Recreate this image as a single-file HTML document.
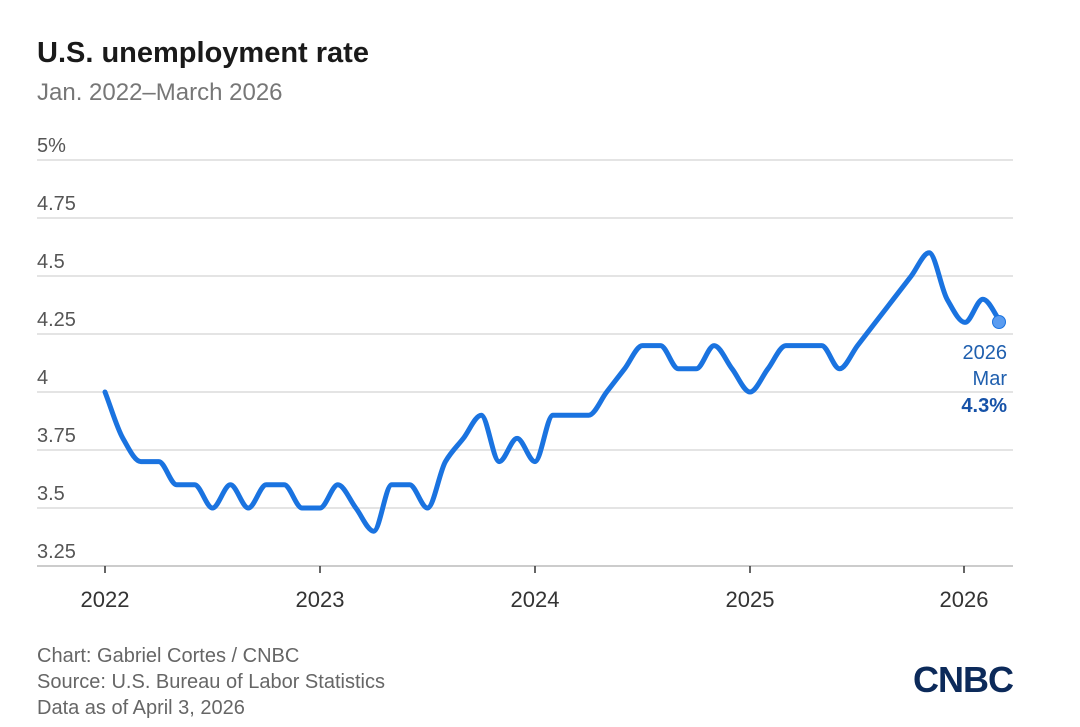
<!DOCTYPE html>
<html><head><meta charset="utf-8"><style>
body{margin:0;background:#fff;width:1080px;height:722px;overflow:hidden;font-family:"Liberation Sans",sans-serif}
</style></head><body>
<svg width="1080" height="722" xmlns="http://www.w3.org/2000/svg" font-family="Liberation Sans, sans-serif">
<rect width="1080" height="722" fill="#fff"/>
<text x="37" y="62" font-size="29" font-weight="bold" fill="#1a1a1a">U.S. unemployment rate</text>
<text x="37" y="100" font-size="24" fill="#777">Jan. 2022–March 2026</text>
<g stroke="#dcdcdc" stroke-width="1.5">
<line x1="37" x2="1013" y1="160" y2="160"/><line x1="37" x2="1013" y1="218" y2="218"/>
<line x1="37" x2="1013" y1="276" y2="276"/><line x1="37" x2="1013" y1="334" y2="334"/>
<line x1="37" x2="1013" y1="392" y2="392"/><line x1="37" x2="1013" y1="450" y2="450"/>
<line x1="37" x2="1013" y1="508" y2="508"/>
</g>
<line x1="37" x2="1013" y1="566" y2="566" stroke="#bbb" stroke-width="1.5"/>
<g font-size="20" fill="#555">
<text x="37" y="152">5%</text><text x="37" y="210">4.75</text><text x="37" y="268">4.5</text>
<text x="37" y="326">4.25</text><text x="37" y="384">4</text><text x="37" y="442">3.75</text>
<text x="37" y="500">3.5</text><text x="37" y="558">3.25</text>
</g>
<g stroke="#333" stroke-width="1.5">
<line x1="105" x2="105" y1="566" y2="573"/><line x1="320" x2="320" y1="566" y2="573"/>
<line x1="535" x2="535" y1="566" y2="573"/><line x1="750" x2="750" y1="566" y2="573"/>
<line x1="964" x2="964" y1="566" y2="573"/>
</g>
<g font-size="22" fill="#333" text-anchor="middle">
<text x="105" y="607">2022</text><text x="320" y="607">2023</text><text x="535" y="607">2024</text>
<text x="750" y="607">2025</text><text x="964" y="607">2026</text>
</g>
<path id="ln" fill="none" stroke="#1a73e0" stroke-width="5" stroke-linejoin="round" stroke-linecap="round"/>
<circle cx="999" cy="322" r="6.5" fill="#5a9cf0" stroke="#1a73e0" stroke-width="1"/>
<g font-size="20" text-anchor="end">
<text x="1007" y="359" fill="#1f5fae">2026</text>
<text x="1007" y="385" fill="#1f5fae">Mar</text>
<text x="1007" y="412" fill="#1652a8" font-weight="bold">4.3%</text>
</g>
<g font-size="20" fill="#666">
<text x="37" y="662">Chart: Gabriel Cortes / CNBC</text>
<text x="37" y="688">Source: U.S. Bureau of Labor Statistics</text>
<text x="37" y="714">Data as of April 3, 2026</text>
</g>
<text x="1013" y="692" font-size="36" font-weight="bold" fill="#0c2a5a" text-anchor="end" letter-spacing="-1">CNBC</text>
</svg>
<script>
var d=[4.0,3.8,3.7,3.7,3.6,3.6,3.5,3.6,3.5,3.6,3.6,3.5,
3.5,3.6,3.5,3.4,3.6,3.6,3.5,3.7,3.8,3.9,3.7,3.8,
3.7,3.9,3.9,3.9,4.0,4.1,4.2,4.2,4.1,4.1,4.2,4.1,
4.0,4.1,4.2,4.2,4.2,4.1,4.2,4.3,4.4,4.5,4.6,4.4,
4.3,4.4,4.3];
var P=d.map(function(v,i){return [105+i*215/12,392-(v-4)*232];});
var n=P.length,m=[],s=[];
for(var i=0;i<n-1;i++)s.push((P[i+1][1]-P[i][1])/(P[i+1][0]-P[i][0]));
for(var i=0;i<n;i++){
 if(i==0)m.push(s[0]);else if(i==n-1)m.push(s[n-2]);
 else m.push(s[i-1]*s[i]<=0?0:2/(1/s[i-1]+1/s[i]));
}
var p="M"+P[0][0]+","+P[0][1];
for(var i=0;i<n-1;i++){var h=(P[i+1][0]-P[i][0])/3;
 p+=" C"+(P[i][0]+h)+","+(P[i][1]+m[i]*h)+" "+(P[i+1][0]-h)+","+(P[i+1][1]-m[i+1]*h)+" "+P[i+1][0]+","+P[i+1][1];}
document.getElementById("ln").setAttribute("d",p);
</script>
</body></html>
